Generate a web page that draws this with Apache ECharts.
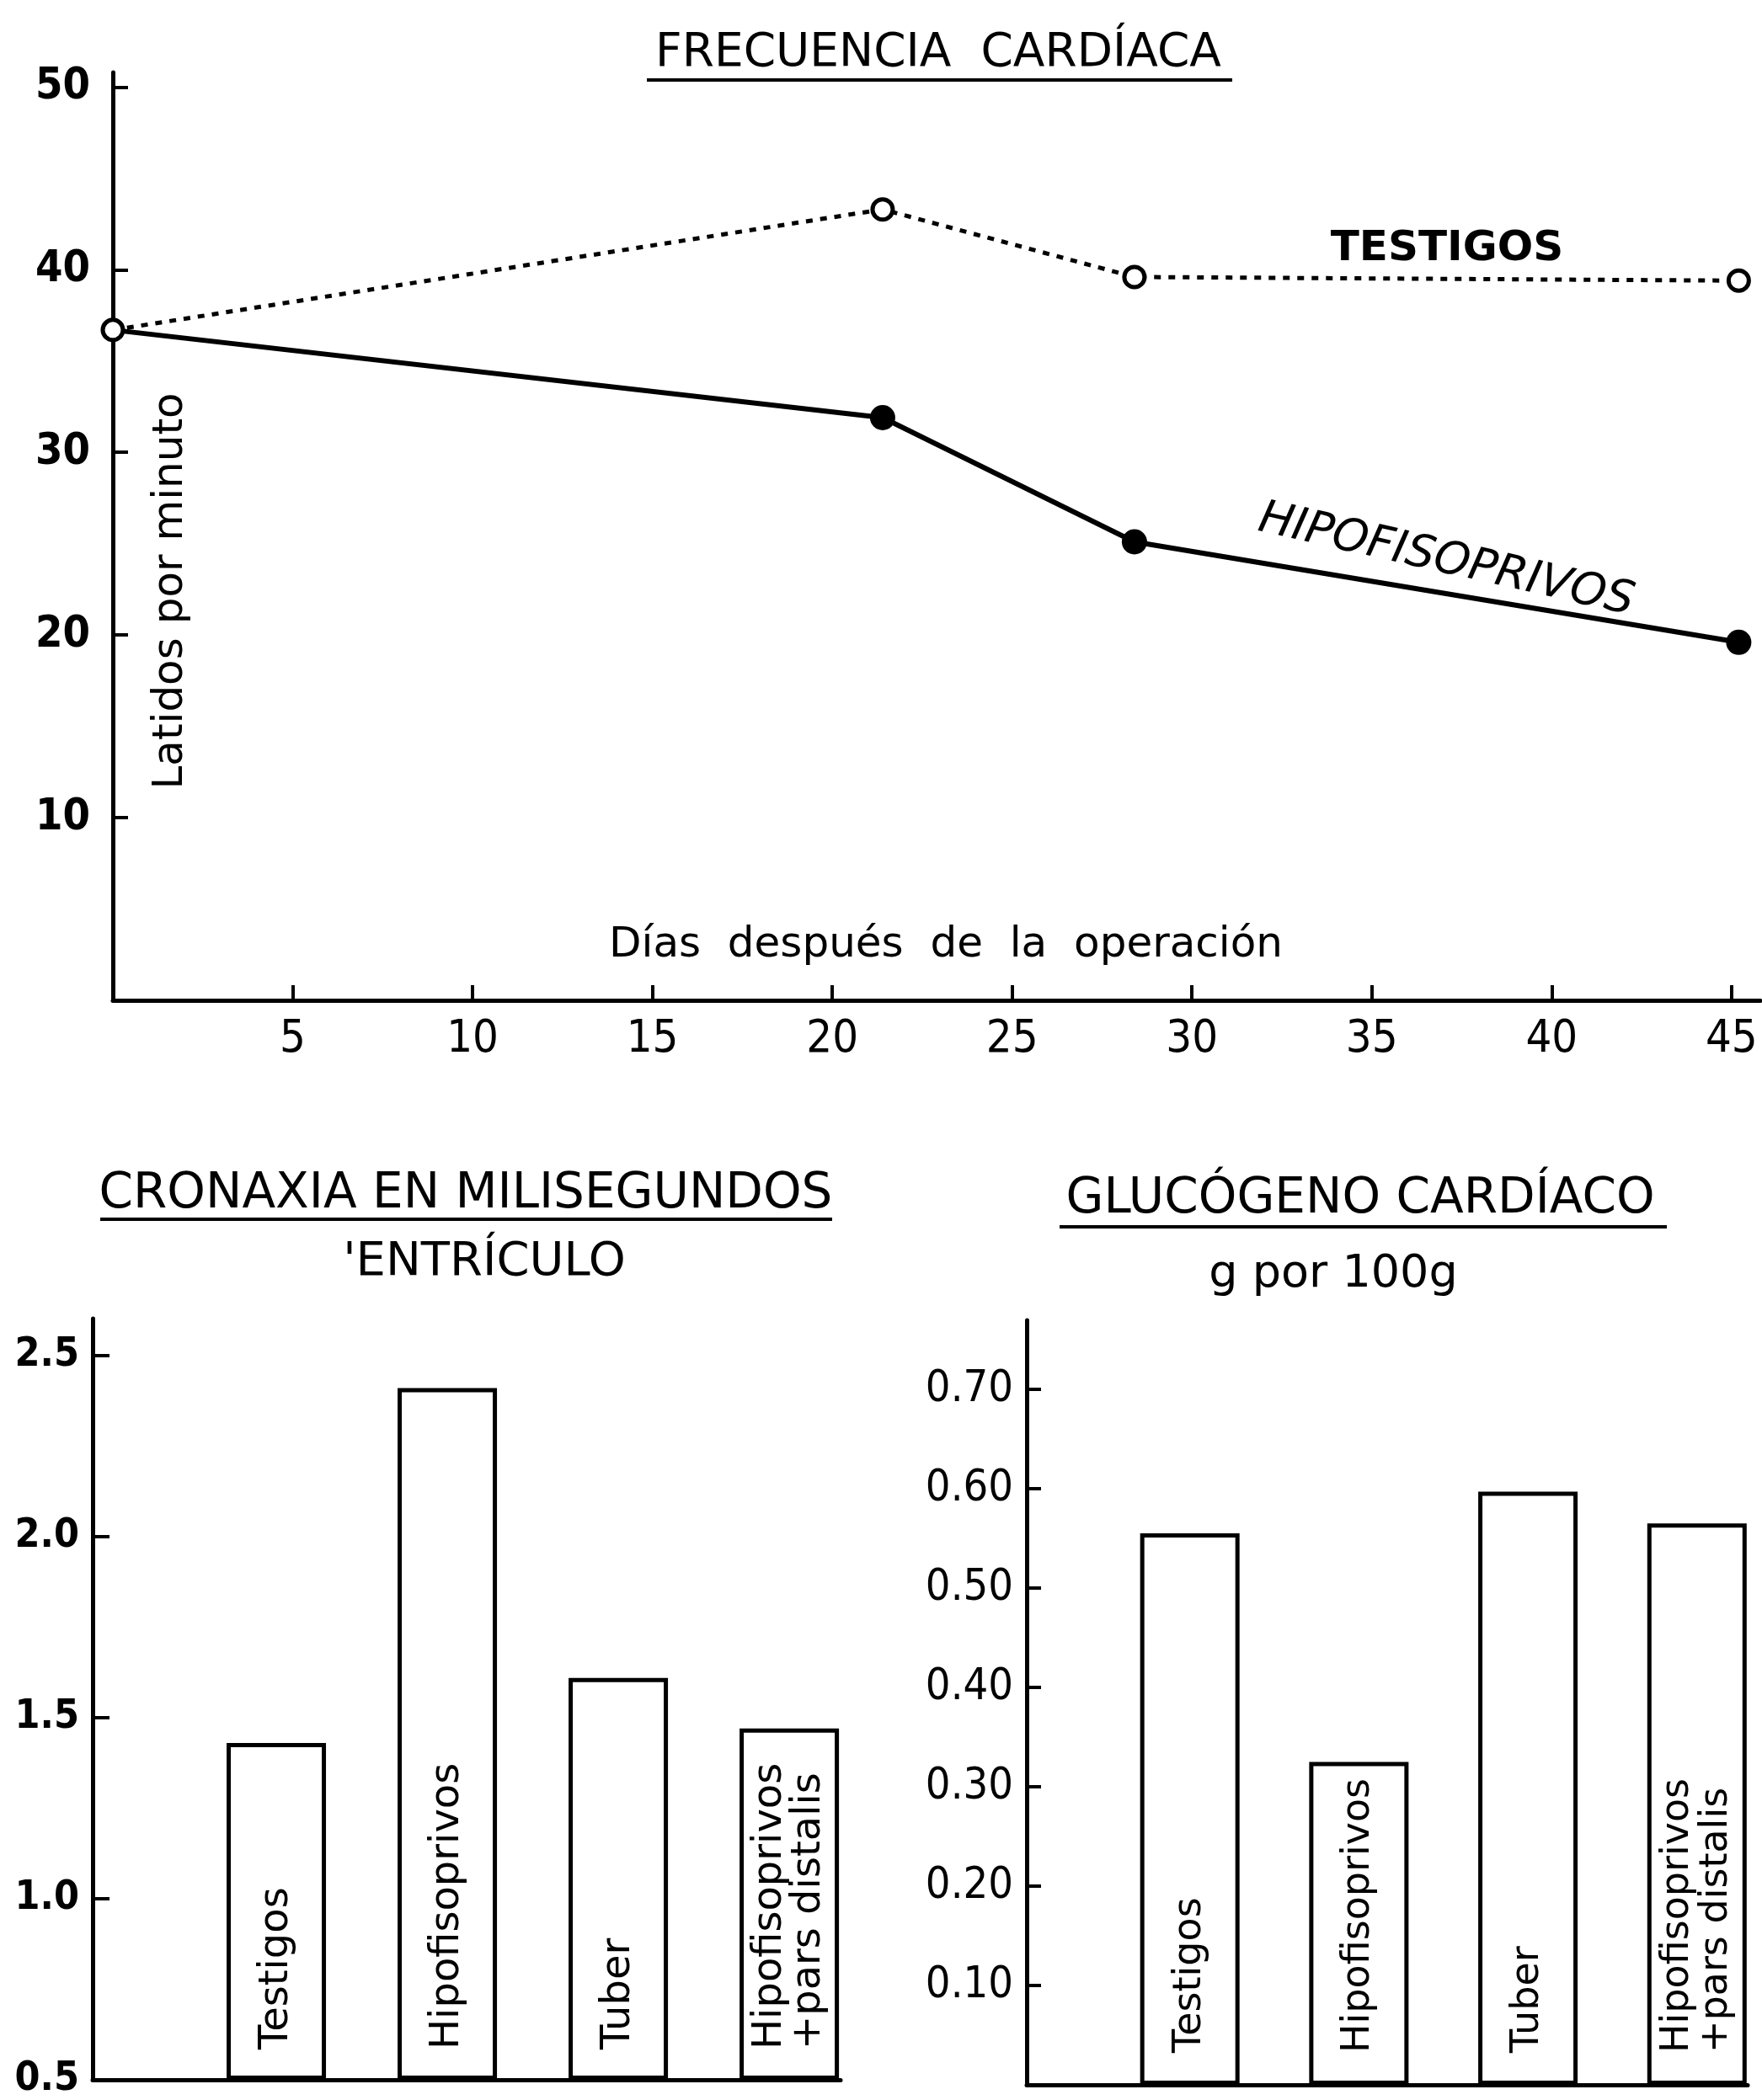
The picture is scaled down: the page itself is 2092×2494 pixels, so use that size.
<!DOCTYPE html>
<html><head><meta charset="utf-8">
<script src="https://cdn.jsdelivr.net/npm/echarts@6/dist/echarts.min.js"></script>
<style>html,body{margin:0;padding:0;background:#fff}#c{width:2092px;height:2494px}</style>
</head><body><div id="c"></div>
<script>
// ---- Data ----
const days = [0, 21.4, 28.4, 45.2];
const testigosRate = [36.7, 43.3, 39.6, 39.4];
const hipofisoRate = [36.7, 31.9, 25.1, 19.6];
const xTicksTop = [5, 10, 15, 20, 25, 30, 35, 40, 45];
const yTicksTop = [10, 20, 30, 40, 50];

const barGroups = ['Testigos', 'Hipofisoprivos', 'Tuber', 'Hipofisoprivos\n+pars distalis'];
const barPos = [1, 2, 3, 4];
const cronaxia = [1.43, 2.41, 1.61, 1.47];
const cronaxiaTicks = [0.5, 1.0, 1.5, 2.0, 2.5];
const glucogeno = [0.555, 0.325, 0.597, 0.565];
const glucogenoTicks = [0.1, 0.2, 0.3, 0.4, 0.5, 0.6, 0.7];

const NARROW = "'Liberation Sans Narrow','DejaVu Sans Condensed','DejaVu Sans',sans-serif";
const SANS = "'DejaVu Sans',sans-serif";
const BLACK = '#000';

function axisBase(extra) {
  return Object.assign({
    type: 'value',
    splitLine: { show: false },
    axisLine: { show: true, onZero: false, lineStyle: { color: BLACK, width: 5 } },
  }, extra);
}

const chart = echarts.init(document.getElementById('c'), null, { renderer: 'canvas' });

const option = {
  backgroundColor: '#fff',
  animation: false,
  grid: [
    { left: 134, top: 86, width: 1956, height: 1102 },
    { left: 110, top: 1566, width: 888, height: 908 },
    { left: 1219, top: 1568, width: 856, height: 908 }
  ],
  xAxis: [
    axisBase({
      gridIndex: 0, min: 0, max: 45.8,
      axisTick: { show: true, inside: true, length: 18, customValues: xTicksTop, lineStyle: { color: BLACK, width: 4 } },
      axisLabel: { customValues: xTicksTop, color: BLACK, fontSize: 54, fontFamily: NARROW, margin: 20 }
    }),
    axisBase({
      gridIndex: 1, min: -0.074, max: 4.30,
      axisTick: { show: false }, axisLabel: { show: false }
    }),
    axisBase({
      gridIndex: 2, min: 0.035, max: 4.30,
      axisTick: { show: false }, axisLabel: { show: false }
    })
  ],
  yAxis: [
    axisBase({
      gridIndex: 0, min: 0, max: 50.8,
      axisTick: { show: true, inside: true, length: 18, customValues: yTicksTop, lineStyle: { color: BLACK, width: 4 } },
      axisLabel: { customValues: yTicksTop, color: BLACK, fontSize: 52, fontWeight: 'bold', fontFamily: NARROW, margin: 27 }
    }),
    axisBase({
      gridIndex: 1, min: 0.5, max: 2.602, startValue: 0.5,
      axisTick: { show: true, inside: true, length: 20, customValues: cronaxiaTicks, lineStyle: { color: BLACK, width: 4 } },
      axisLabel: { customValues: cronaxiaTicks, color: BLACK, fontSize: 48, fontWeight: 'bold', fontFamily: NARROW, margin: 16,
        formatter: v => v.toFixed(1) }
    }),
    axisBase({
      gridIndex: 2, min: 0, max: 0.7695,
      axisTick: { show: true, inside: true, length: 17, customValues: glucogenoTicks, lineStyle: { color: BLACK, width: 4 } },
      axisLabel: { customValues: glucogenoTicks, color: BLACK, fontSize: 52, fontFamily: NARROW, margin: 16,
        formatter: v => v.toFixed(2) }
    })
  ],
  series: [
    {
      name: 'HIPOFISOPRIVOS', type: 'line', xAxisIndex: 0, yAxisIndex: 0, clip: false, z: 2,
      data: days.map((d, i) => i === 0 ? { value: [d, hipofisoRate[i]], symbol: 'none' } : [d, hipofisoRate[i]]),
      symbol: 'circle', symbolSize: 30,
      itemStyle: { color: BLACK },
      lineStyle: { color: BLACK, width: 6 }
    },
    {
      name: 'TESTIGOS', type: 'line', xAxisIndex: 0, yAxisIndex: 0, clip: false, z: 3,
      data: days.map((d, i) => [d, testigosRate[i]]),
      symbol: 'circle', symbolSize: 24,
      itemStyle: { color: '#fff', borderColor: BLACK, borderWidth: 5 },
      lineStyle: { color: BLACK, width: 5, type: [8, 9] }
    },
    {
      name: 'Cronaxia', type: 'bar', xAxisIndex: 1, yAxisIndex: 1, barWidth: 118,
      data: barPos.map((p, i) => [p, cronaxia[i]]),
      itemStyle: { color: '#fff', borderColor: BLACK, borderWidth: 5 },
      label: {
        show: true, formatter: p => barGroups[p.dataIndex],
        position: 'insideBottom', rotate: 90, align: 'left', verticalAlign: 'middle', distance: 36,
        fontSize: 48, lineHeight: 46, color: BLACK, fontFamily: SANS
      }
    },
    {
      name: 'Glucogeno', type: 'bar', xAxisIndex: 2, yAxisIndex: 2, barWidth: 118,
      data: barPos.map((p, i) => [p, glucogeno[i]]),
      itemStyle: { color: '#fff', borderColor: BLACK, borderWidth: 5 },
      label: {
        show: true, formatter: p => barGroups[p.dataIndex],
        position: 'insideBottom', rotate: 90, align: 'left', verticalAlign: 'middle', distance: 38,
        fontSize: 46, lineHeight: 46, color: BLACK, fontFamily: SANS
      }
    }
  ],
  graphic: [
    { type: 'text', x: 1114, y: 64, style: { text: 'FRECUENCIA  CARDÍACA', font: '55px ' + SANS, fill: BLACK, align: 'center', verticalAlign: 'middle' } },
    { type: 'line', shape: { x1: 768, y1: 95, x2: 1463, y2: 95 }, style: { stroke: BLACK, lineWidth: 4 } },
    { type: 'text', x: 1718, y: 296, style: { text: 'TESTIGOS', font: 'bold 50px ' + SANS, fill: BLACK, align: 'center', verticalAlign: 'middle' } },
    { type: 'text', x: 1717, y: 666, rotation: -0.222, style: { text: 'HIPOFISOPRIVOS', font: 'italic 54px ' + SANS, fill: BLACK, align: 'center', verticalAlign: 'middle' } },
    { type: 'text', x: 203, y: 702, rotation: Math.PI / 2, style: { text: 'Latidos por minuto', font: '50px ' + SANS, fill: BLACK, align: 'center', verticalAlign: 'middle' } },
    { type: 'text', x: 1123, y: 1123, style: { text: 'Días  después  de  la  operación', font: '50px ' + SANS, fill: BLACK, align: 'center', verticalAlign: 'middle' } },
    { type: 'text', x: 553, y: 1419, style: { text: 'CRONAXIA EN MILISEGUNDOS', font: '58px ' + SANS, fill: BLACK, align: 'center', verticalAlign: 'middle' } },
    { type: 'line', shape: { x1: 119, y1: 1448, x2: 988, y2: 1448 }, style: { stroke: BLACK, lineWidth: 4 } },
    { type: 'text', x: 575, y: 1499, style: { text: '\'ENTRÍCULO', font: '56px ' + SANS, fill: BLACK, align: 'center', verticalAlign: 'middle' } },
    { type: 'text', x: 1615, y: 1425, style: { text: 'GLUCÓGENO CARDÍACO', font: '58px ' + SANS, fill: BLACK, align: 'center', verticalAlign: 'middle' } },
    { type: 'line', shape: { x1: 1258, y1: 1457, x2: 1979, y2: 1457 }, style: { stroke: BLACK, lineWidth: 4 } },
    { type: 'text', x: 1583, y: 1514, style: { text: 'g por 100g', font: '54px ' + SANS, fill: BLACK, align: 'center', verticalAlign: 'middle' } }
  ]
};
chart.setOption(option);
</script>
</body></html>
